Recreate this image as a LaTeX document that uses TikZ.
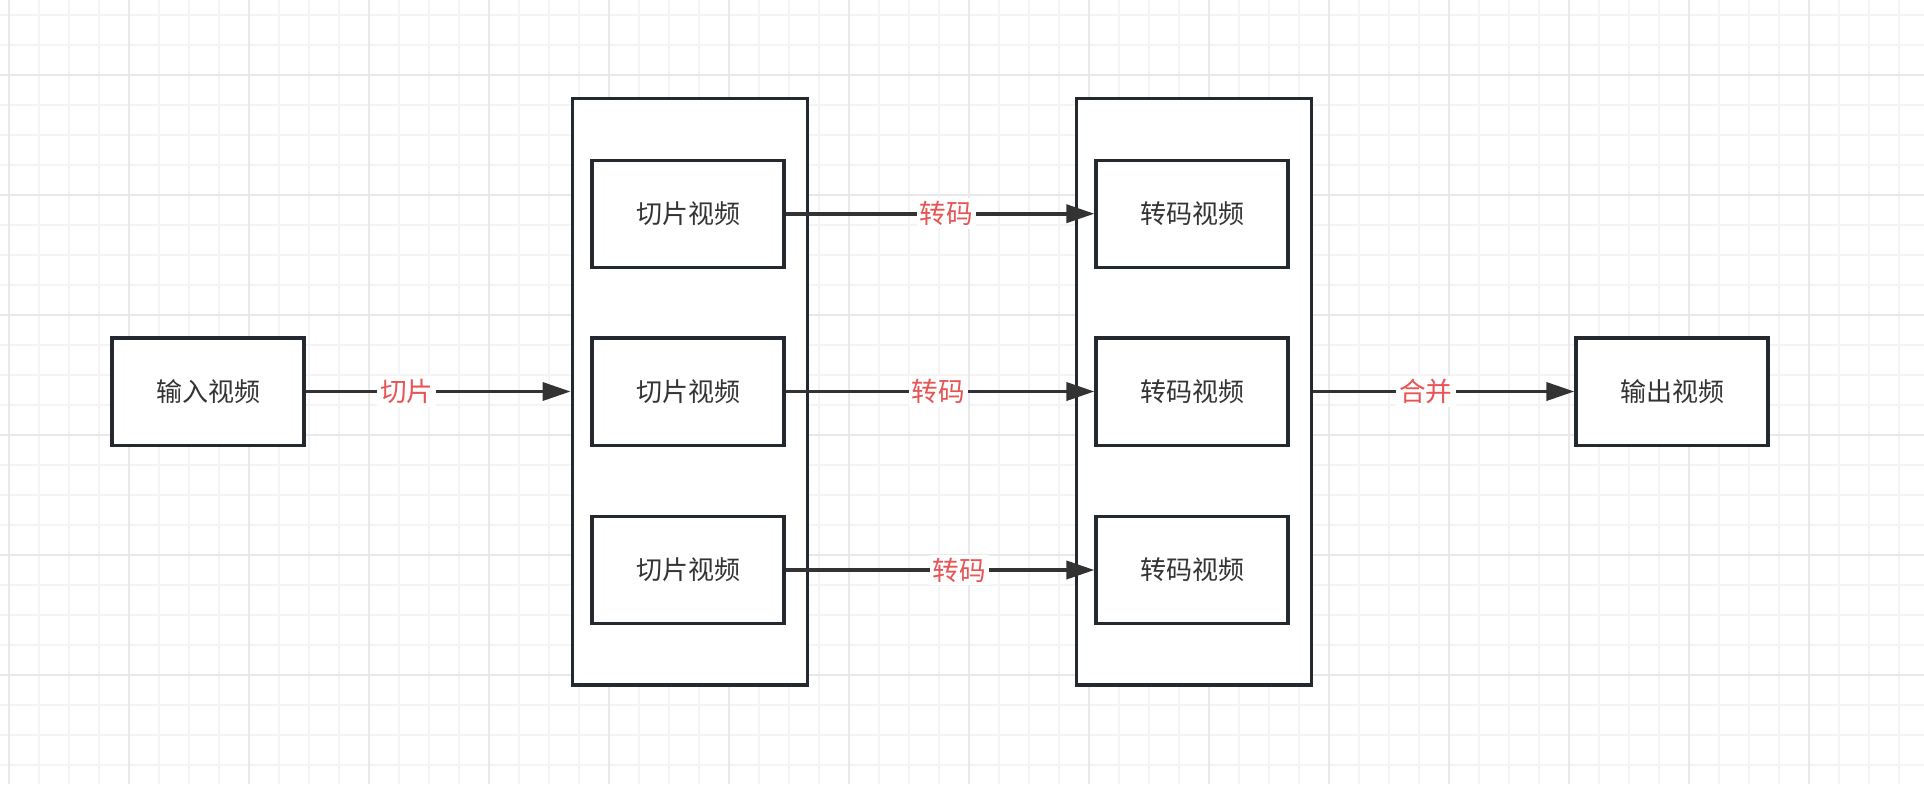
\documentclass[tikz,border=0pt]{standalone}
\usepackage{fontspec}
\setmainfont{Noto Sans CJK SC}
\usepackage{tikz}
\usetikzlibrary{arrows.meta}

\definecolor{boxline}{HTML}{23292E}
\definecolor{arrowgray}{HTML}{333333}
\definecolor{txtgray}{HTML}{333333}
\definecolor{labelred}{HTML}{E85454}
\definecolor{gridminor}{HTML}{F4F4F4}
\definecolor{gridmajor}{HTML}{E9E9E9}

\tikzset{
  videobox/.style={draw=boxline, line width=1.6pt, fill=white, text=txtgray,
    minimum width=96pt, minimum height=53.6pt, inner sep=0pt,
    font=\fontsize{13pt}{16pt}\selectfont},
  groupbox/.style={draw=boxline, line width=1.6pt, fill=white,
    minimum width=117.8pt, minimum height=293.4pt, inner sep=0pt},
  flow/.style={-{Triangle[length=14pt,width=9pt]}, line width=1.8pt, draw=arrowgray},
  steplabel/.style={fill=white, text=labelred, inner sep=1.5pt,
    font=\fontsize{13.3pt}{16pt}\selectfont}
}

\begin{document}
\begin{tikzpicture}[x=0.5pt, y=-0.5pt]
  \useasboundingbox (0,0) rectangle (1924,784);

  % Background grid: minor every 30, major every 120
  \foreach \gx in {9,39,...,1923} \draw[gridminor, line width=0.9pt] (\gx,0) -- (\gx,784);
  \foreach \gy in {15,45,...,783} \draw[gridminor, line width=0.9pt] (0,\gy) -- (1924,\gy);
  \foreach \gx in {9,129,...,1923} \draw[gridmajor, line width=0.9pt] (\gx,0) -- (\gx,784);
  \foreach \gy in {75,195,...,783} \draw[gridmajor, line width=0.9pt] (0,\gy) -- (1924,\gy);

  % Input and output
  \node (input)  [videobox] at (208,391.5)  {输入视频};
  \node (output) [videobox] at (1672,391.5) {输出视频};

  % Group containers
  \node (sliceGroup) [groupbox] at (690,391.5)  {};
  \node (codeGroup)  [groupbox] at (1194,391.5) {};

  % Slices and transcoded pieces
  \node (sliceA) [videobox] at (688,213.7) {切片视频};
  \node (sliceB) [videobox] at (688,391.5) {切片视频};
  \node (sliceC) [videobox] at (688,570)   {切片视频};
  \node (codeA)  [videobox] at (1192,213.7) {转码视频};
  \node (codeB)  [videobox] at (1192,391.5) {转码视频};
  \node (codeC)  [videobox] at (1192,570)   {转码视频};

  % Connectors
  \draw[flow] (input.east) -- (input.east -| sliceGroup.west)
    node[steplabel, pos=0.382] {切片};
  \draw[flow] (sliceA.east) -- (codeA.west) node[steplabel, pos=0.52]  {转码};
  \draw[flow] (sliceB.east) -- (codeB.west) node[steplabel, pos=0.494] {转码};
  \draw[flow] (sliceC.east) -- (codeC.west) node[steplabel, pos=0.563] {转码};
  \draw[flow] (codeGroup.east |- output.west) -- (output.west)
    node[steplabel, pos=0.431] {合并};
\end{tikzpicture}
\end{document}
